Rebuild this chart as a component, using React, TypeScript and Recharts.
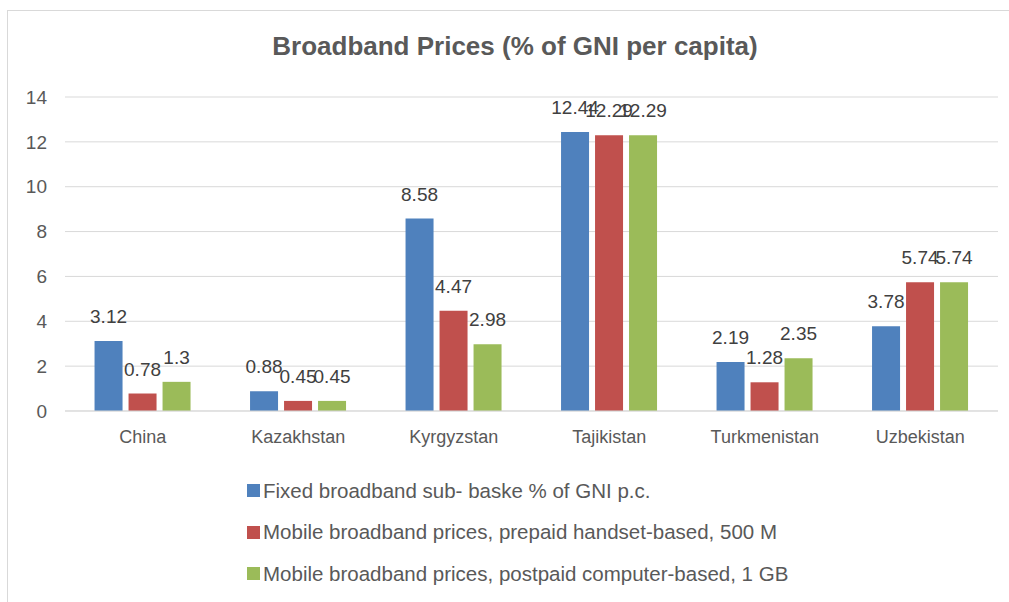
import React from 'react';
import { BarChart, Bar, XAxis, YAxis, CartesianGrid, LabelList } from 'recharts';

const categories = ['China', 'Kazakhstan', 'Kyrgyzstan', 'Tajikistan', 'Turkmenistan', 'Uzbekistan'];
const fixedBroadband = [3.12, 0.88, 8.58, 12.44, 2.19, 3.78];
const mobilePrepaid = [0.78, 0.45, 4.47, 12.29, 1.28, 5.74];
const mobilePostpaid = [1.3, 0.45, 2.98, 12.29, 2.35, 5.74];
const yTicks = [0, 2, 4, 6, 8, 10, 12, 14];

const seriesNames = [
  'Fixed broadband sub- baske % of GNI p.c.',
  'Mobile broadband prices, prepaid handset-based, 500 M',
  'Mobile broadband prices, postpaid computer-based, 1 GB',
];
const colors = ['#4F81BD', '#C0504D', '#9BBB59'];

const data = categories.map((c, i) => ({
  name: c,
  s0: fixedBroadband[i],
  s1: mobilePrepaid[i],
  s2: mobilePostpaid[i],
}));

const FONT = '"Liberation Sans", Arial, sans-serif';

export default function App() {
  return (
    <div style={{ position: 'absolute', left: 0, top: 0, width: 1009, height: 602, background: '#fff', overflow: 'hidden' }}>
      <div style={{ position: 'absolute', left: 7, top: 10, width: 1100, height: 700, border: '1px solid #d9d9d9' }} />
      <div style={{ position: 'absolute', left: 0, top: 31, width: 1030, textAlign: 'center', fontFamily: FONT, fontWeight: 'bold', fontSize: 26, color: '#595959' }}>
        Broadband Prices (% of GNI per capita)
      </div>
      <div style={{ position: 'absolute', left: 0, top: 0 }}>
        <BarChart width={1009} height={602} data={data} margin={{ top: 97, right: 11, bottom: 161, left: 0 }} barGap={6} barCategoryGap="19%">
          <CartesianGrid vertical={false} stroke="#d9d9d9" />
          <XAxis dataKey="name" height={30} axisLine={{ stroke: '#d9d9d9' }} tickLine={false} tickSize={0} tickMargin={19} tick={{ fill: '#595959', fontSize: 18, fontFamily: FONT }} interval={0} />
          <YAxis width={65} domain={[0, 14]} ticks={yTicks} interval={0} axisLine={false} tickLine={false} tickSize={0} tickMargin={18} tick={{ fill: '#595959', fontSize: 19, fontFamily: FONT }} />
          {['s0', 's1', 's2'].map((k, i) => (
            <Bar key={k} dataKey={k} name={seriesNames[i]} fill={colors[i]} isAnimationActive={false}>
              <LabelList dataKey={k} position="top" offset={18} fill="#404040" fontSize={19} fontFamily={FONT} />
            </Bar>
          ))}
        </BarChart>
      </div>
      <div style={{ position: 'absolute', left: 247, top: 470, fontFamily: FONT, fontSize: 20.5, color: '#595959' }}>
        {seriesNames.map((n, i) => (
          <div key={n} style={{ display: 'flex', alignItems: 'center', height: 41.5 }}>
            <span style={{ display: 'inline-block', width: 13, height: 13, background: colors[i], marginRight: 3 }} />
            <span>{n}</span>
          </div>
        ))}
      </div>
    </div>
  );
}
